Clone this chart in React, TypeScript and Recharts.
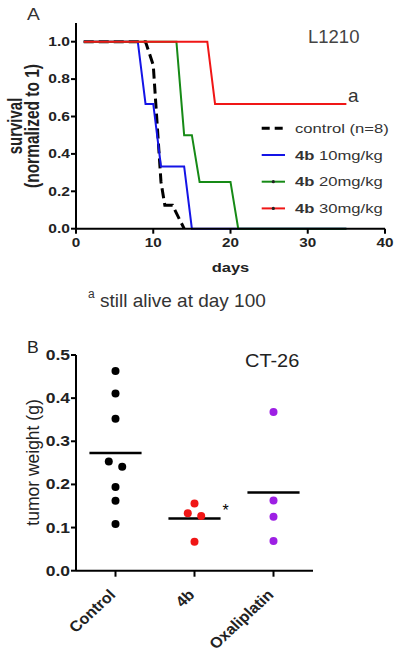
import React from "react";
import {
  LineChart,
  Line,
  XAxis,
  YAxis,
  Legend,
  ScatterChart,
  Scatter,
  ReferenceLine,
} from "recharts";

// ---------- Panel A: survival (L1210) ----------
const controlDays = [1, 9, 10, 11, 11.5, 12.5, 14];
const controlSurvival = [1, 1, 0.875, 0.25, 0.125, 0.125, 0];
const dose10Days = [1, 8, 9, 10, 11, 14, 15, 35];
const dose10Survival = [1, 1, 0.667, 0.667, 0.333, 0.333, 0, 0];
const dose20Days = [1, 13, 14, 15, 16, 20, 21, 35];
const dose20Survival = [1, 1, 0.5, 0.5, 0.25, 0.25, 0, 0];
const dose30Days = [1, 17, 18, 35];
const dose30Survival = [1, 1, 0.667, 0.667];
const dayTicks = [0, 10, 20, 30, 40];
const survivalTicks = [0, 0.2, 0.4, 0.6, 0.8, 1.0];

// ---------- Panel B: tumor weight (CT-26) ----------
const groups = ["Control", "4b", "Oxaliplatin"];
const controlWeights = [0.463, 0.411, 0.352, 0.253, 0.241, 0.194, 0.162, 0.108];
const b4Weights = [0.156, 0.133, 0.127, 0.067];
const oxaliWeights = [0.368, 0.163, 0.125, 0.069];
const weightTicks = [0, 0.1, 0.2, 0.3, 0.4, 0.5];

const FONT = "'Liberation Sans', Arial, sans-serif";
const BLUE = "#1414e6";
const GREEN = "#168a16";
const RED = "#f01616";
const PURPLE = "#9d1fe4";

const zip = (xs: number[], ys: number[]) => xs.map((d, i) => ({ d, s: ys[i] }));

// beeswarm: close values are spread left/right (higher one to the left)
const SPREAD = 0.085;
const swarm = (vals: number[], gi: number) =>
  vals.map((v, i) => {
    let off = 0;
    vals.forEach((w, j) => {
      if (j !== i && Math.abs(v - w) < 0.015) off = v > w ? -SPREAD : SPREAD;
    });
    return { x: gi + 1 + off, y: v };
  });
const mean = (a: number[]) => a.reduce((s, v) => s + v, 0) / a.length;

function HText(props: any) {
  const { x, y, sx = 1, anchor = "start", size, weight = "normal", fill = "#222", rotate, children } = props;
  return (
    <g transform={`translate(${x},${y}) scale(${sx},1)${rotate ? ` rotate(${rotate})` : ""}`}>
      <text x={0} y={0} textAnchor={anchor} fontSize={size} fontWeight={weight} fill={fill} fontFamily={FONT}>
        {children}
      </text>
    </g>
  );
}

const TopYTick = (p: any) => (
  <HText x={p.x} y={p.y + 4.2} sx={1.3} anchor="end" size={12} weight="bold">
    {Number(p.payload.value).toFixed(1)}
  </HText>
);
const TopXTick = (p: any) => (
  <HText x={p.x} y={p.y + 9} sx={1.22} anchor="middle" size={12.5} weight="bold">
    {p.payload.value}
  </HText>
);
const BotYTick = (p: any) => (
  <HText x={p.x} y={p.y + 5} sx={1.25} anchor="end" size={14} weight="bold">
    {Number(p.payload.value).toFixed(1)}
  </HText>
);
const BotXTick = (p: any) => (
  <HText x={p.x + 1} y={p.y + 15} sx={1.08} anchor="end" size={15} weight="bold" rotate={-45}>
    {groups[Math.round(p.payload.value) - 1]}
  </HText>
);

const legendItems = [
  { color: "#000", dashed: true, dot: false, bold: "", rest: "control (n=8)" },
  { color: BLUE, dashed: false, dot: false, bold: "4b", rest: " 10mg/kg" },
  { color: GREEN, dashed: false, dot: true, bold: "4b", rest: " 20mg/kg" },
  { color: RED, dashed: false, dot: true, bold: "4b", rest: " 30mg/kg" },
];

const LegendBox = () => (
  <svg width={150} height={110} style={{ display: "block" }}>
    {legendItems.map((it, i) => {
      const cy = 18.3 + i * 26.7;
      return (
        <g key={i}>
          <line
            x1={11.7}
            x2={35}
            y1={cy}
            y2={cy}
            stroke={it.color}
            strokeWidth={it.dashed ? 3 : 2}
            strokeDasharray={it.dashed ? "8 5" : undefined}
          />
          {it.dot && <circle cx={23.3} cy={cy} r={1.6} fill="#222" />}
          <g transform={`translate(45,${cy + 4.5}) scale(1.33,1)`}>
            <text x={0} y={0} fontSize={12.5} fill="#333" fontFamily={FONT}>
              {it.bold && <tspan fontWeight="bold">{it.bold}</tspan>}
              <tspan>{it.rest}</tspan>
            </text>
          </g>
        </g>
      );
    })}
  </svg>
);

export default function App() {
  const axisStyle = { stroke: "#000", strokeWidth: 2 };
  return (
    <div style={{ position: "absolute", left: 0, top: 0, width: 400, height: 657, background: "#fff", overflow: "hidden" }}>
      <div style={{ position: "absolute", left: 0, top: 0 }}>
        <LineChart width={400} height={320} margin={{ top: 23, right: 15, left: 36, bottom: 61.3 }}>
          <XAxis
            dataKey="d"
            type="number"
            domain={[0, 40]}
            ticks={dayTicks}
            height={30}
            axisLine={axisStyle}
            tickLine={axisStyle}
            tickSize={5}
            tickMargin={4}
            tick={TopXTick}
            allowDuplicatedCategory={false}
          />
          <YAxis
            type="number"
            domain={[0, 1.1]}
            ticks={survivalTicks}
            width={40}
            axisLine={axisStyle}
            tickLine={axisStyle}
            tickSize={5}
            tickMargin={1}
            tick={TopYTick}
          />
          <Line data={zip(controlDays, controlSurvival)} dataKey="s" stroke="#000" strokeWidth={3} strokeDasharray="10 5" dot={false} type="linear" isAnimationActive={false} />
          <Line data={zip(dose10Days, dose10Survival)} dataKey="s" stroke={BLUE} strokeWidth={2} dot={false} type="linear" isAnimationActive={false} />
          <Line data={zip(dose20Days, dose20Survival)} dataKey="s" stroke={GREEN} strokeWidth={2} dot={false} type="linear" isAnimationActive={false} />
          <Line data={zip(dose30Days, dose30Survival)} dataKey="s" stroke={RED} strokeWidth={2} dot={false} type="linear" isAnimationActive={false} />
          <Legend
            layout="horizontal"
            verticalAlign="middle"
            align="center"
            content={() => <LegendBox />}
            wrapperStyle={{ left: 250, top: 110, width: 150, height: 110 }}
          />
        </LineChart>
      </div>

      <div style={{ position: "absolute", left: 0, top: 320 }}>
        <ScatterChart width={400} height={337} margin={{ top: 35, right: 87, left: 36, bottom: 26.3 }}>
          <XAxis
            dataKey="x"
            type="number"
            domain={[0.5, 3.5]}
            ticks={[1, 2, 3]}
            height={60}
            axisLine={axisStyle}
            tickLine={axisStyle}
            tickSize={6}
            tickMargin={4}
            tick={BotXTick}
          />
          <YAxis
            dataKey="y"
            type="number"
            domain={[0, 0.5]}
            ticks={weightTicks}
            width={40}
            axisLine={axisStyle}
            tickLine={axisStyle}
            tickSize={5}
            tickMargin={1}
            tick={BotYTick}
          />
          {[controlWeights, b4Weights, oxaliWeights].map((vals, gi) => (
            <ReferenceLine
              key={"m" + gi}
              segment={[
                { x: gi + 1 - 0.33, y: mean(vals) },
                { x: gi + 1 + 0.33, y: mean(vals) },
              ]}
              stroke="#000"
              strokeWidth={2.5}
            />
          ))}
          {[controlWeights, b4Weights, oxaliWeights].map((vals, gi) => {
            const color = ["#000", RED, PURPLE][gi];
            return (
              <Scatter
                key={"s" + gi}
                data={swarm(vals, gi)}
                fill={color}
                isAnimationActive={false}
                shape={(p: any) => <circle cx={p.cx} cy={p.cy} r={4} fill={color} />}
              />
            );
          })}
        </ScatterChart>
      </div>

      <svg width={400} height={657} style={{ position: "absolute", left: 0, top: 0, pointerEvents: "none" }}>
        {/* Panel A annotations */}
        <HText x={27} y={20} sx={1.2} size={16} fill="#333">A</HText>
        <HText x={308} y={43.3} size={18.5} fill="#444">L1210</HText>
        <HText x={348} y={101.5} size={19} fill="#333">a</HText>
        <HText x={22} y={126} sx={1.3} size={15} weight="bold" anchor="middle" rotate={-90}>survival</HText>
        <HText x={39} y={126} sx={1.3} size={15.5} weight="bold" anchor="middle" rotate={-90}>(normalized to 1)</HText>
        <HText x={230.5} y={272} sx={1.27} size={13} weight="bold" anchor="middle">days</HText>
        <HText x={88} y={298} size={12} fill="#333">a</HText>
        <HText x={100} y={306.7} size={19} fill="#333">still alive at day 100</HText>

        {/* Panel B annotations */}
        <HText x={27} y={353.3} sx={1.1} size={16} fill="#222">B</HText>
        <HText x={245} y={366.7} sx={1.05} size={19} fill="#222">CT-26</HText>
        <HText x={38.5} y={462.5} size={17.5} anchor="middle" rotate={-90}>tumor weight (g)</HText>
        <HText x={225.7} y={516} size={16} anchor="middle" fill="#000">*</HText>
      </svg>
    </div>
  );
}
